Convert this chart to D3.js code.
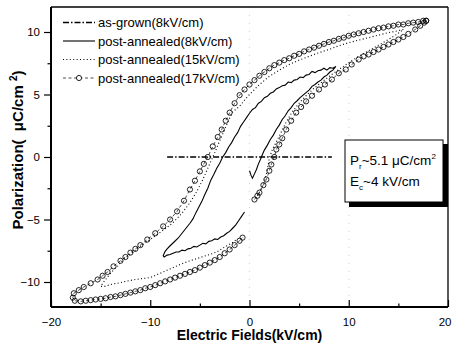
<!DOCTYPE html>
<html>
<head>
<meta charset="utf-8">
<script src="https://cdn.jsdelivr.net/npm/d3@7"></script>
<style>
  html, body { margin: 0; padding: 0; background: #fff; }
  svg { display: block; font-family: "Liberation Sans", Arial, sans-serif; }
</style>
</head>
<body>
<svg id="chart" width="452" height="347"></svg>
<script>
// ---------------- data ----------------
const xTicks = [-20, -10, 0, 10, 20];
const xMinorTicks = [-15, -5, 5, 15];
const yTicks = [-10, -5, 0, 5, 10];
const yMinorTicks = [-7.5, -2.5, 2.5, 7.5];

const legendLabels = ["as-grown(8kV/cm)", "post-annealed(8kV/cm)", "post-annealed(15kV/cm)", "post-annealed(17kV/cm)"];
const noteLines = ["P", "E"];

// as-grown (8 kV/cm): flat at zero
const asGrown = [[-8.3,0],[-6,0],[-4,0],[-2,0],[0,0],[2,0],[4,0],[6,0],[8.3,0]];

// post-annealed (8 kV/cm) – solid loop (null = gap in trace)
const ann8 = [
 [8.7,7.25],[8.4,7.1],[8.1,7.15],[7.8,6.95],[7.5,7.1],[7.2,6.95],[6.9,6.9],[6.6,6.75],[6.3,6.85],[6.0,6.6],
 [5.7,6.55],[5.4,6.35],[5.1,6.4],[4.8,6.2],[4.5,6.15],[4.2,5.95],[3.9,6.0],[3.6,5.75],[3.3,5.7],[3.0,5.55],
 [2.7,5.45],[2.4,5.2],[2.1,5.1],[1.8,4.85],[1.5,4.75],[1.2,4.45],[0.9,4.3],[0.6,3.95],[0.3,3.8],[0.0,3.5],
 [-0.3,3.15],[-0.6,2.8],[-0.9,2.45],[-1.2,1.95],[-1.5,1.6],[-1.8,1.15],[-2.1,0.8],[-2.4,0.35],[-2.7,0.0],
 [-3.0,-0.5],[-3.3,-0.9],[-3.6,-1.4],[-3.9,-1.85],[-4.2,-2.5],[-4.5,-3.0],[-4.8,-3.55],[-5.1,-4.0],
 [-5.4,-4.45],[-5.7,-4.95],[-6.0,-5.3],[-6.4,-5.7],[-6.8,-6.1],[-7.2,-6.5],[-7.6,-6.8],[-8.0,-7.1],
 [-8.3,-7.35],[-8.5,-7.55],[-8.7,-7.9],
 [-8.6,-8.0],[-8.3,-7.85],[-8.0,-7.8],[-7.7,-7.7],[-7.4,-7.6],[-7.1,-7.6],[-6.8,-7.45],[-6.5,-7.5],
 [-6.2,-7.35],[-5.9,-7.3],[-5.6,-7.15],[-5.3,-7.2],[-5.0,-7.05],[-4.7,-6.9],[-4.4,-6.95],[-4.1,-6.75],
 [-3.8,-6.7],[-3.5,-6.55],[-3.2,-6.6],[-2.9,-6.4],[-2.6,-6.3],[-2.3,-6.1],[-2.0,-5.95],[-1.7,-5.7],
 [-1.4,-5.45],[-1.1,-5.1],[-0.8,-4.75],[-0.5,-4.4],
 null,
 [0.0,-1.1],[0.15,-1.45],[0.3,-1.7],[0.5,-1.35],[0.7,-1.0],[0.9,-0.55],[1.1,-0.2],[1.3,0.2],[1.5,0.55],
 [1.8,0.95],[2.1,1.4],[2.4,1.75],[2.7,2.2],[3.0,2.55],[3.3,3.0],[3.6,3.3],[3.9,3.7],[4.2,3.95],[4.5,4.3],
 [4.8,4.5],[5.1,4.75],[5.4,4.95],[5.7,5.15],[6.0,5.35],[6.3,5.65],[6.6,5.8],[6.9,6.0],[7.2,6.15],
 [7.5,6.4],[7.8,6.55],[8.1,6.8],[8.4,6.95],[8.7,7.25]
];

// post-annealed (15 kV/cm) – dotted loop
const ann15 = [
 [15.5,10.2],[15.0,10.1],[14.0,9.95],[13.0,9.75],[12.0,9.55],[11.0,9.35],[10.0,9.15],[9.0,8.9],[8.0,8.6],
 [7.0,8.35],[6.0,8.05],[5.0,7.75],[4.0,7.4],[3.0,6.95],[2.0,6.45],[1.0,5.8],[0.0,5.0],[-0.5,4.55],
 [-1.0,4.05],[-1.7,3.6],[-2.1,2.95],[-2.5,2.2],[-3.0,1.3],[-3.5,0.35],[-3.7,0.0],[-4.2,-0.9],[-4.7,-1.8],
 [-5.3,-2.75],[-6.0,-3.65],[-6.8,-4.5],[-7.7,-5.25],[-8.5,-5.75],[-9.3,-6.2],[-10.2,-6.7],[-11.0,-7.15],
 [-11.8,-7.65],[-12.7,-8.2],[-13.4,-8.8],[-14.0,-9.3],[-14.6,-9.9],[-15.0,-10.35],
 [-14.6,-10.35],[-14.0,-10.2],[-13.3,-10.1],[-12.5,-9.95],[-11.5,-9.8],[-10.0,-9.65],[-9.0,-9.3],
 [-8.0,-8.95],[-7.0,-8.6],[-6.0,-8.3],[-5.0,-8.05],[-4.0,-7.8],[-3.3,-7.6],[-2.5,-7.2],[-1.8,-6.9],[-1.3,-6.6],
 null,
 [0.8,-3.1],[1.2,-2.5],[1.5,-2.0],[1.8,-1.0],[2.0,-0.1],[2.3,0.6],[2.7,1.2],[3.2,2.0],[3.7,2.8],[4.3,3.6],
 [5.0,4.3],[5.7,4.9],[6.5,5.5],[7.3,6.0],[8.2,6.55],[9.0,7.0],[10.0,7.55],[11.0,8.05],[12.0,8.5],
 [13.0,8.95],[14.0,9.4],[14.8,9.8],[15.5,10.2]
];

// post-annealed (17 kV/cm) – open circles
const ann17 = [
 [17.8,10.9],[17.5,10.9],[17.0,10.8],[16.5,10.75],[16.0,10.7],[15.5,10.6],[15.0,10.6],[14.5,10.5],[14.0,10.45],
 [13.5,10.35],[13.0,10.3],[12.5,10.2],[12.0,10.1],[11.5,10.0],[11.0,9.9],[10.5,9.8],[10.0,9.7],[9.5,9.55],
 [9.0,9.45],[8.5,9.3],[8.0,9.2],[7.5,9.05],[7.0,8.9],[6.5,8.75],[6.0,8.6],[5.5,8.45],[5.0,8.25],[4.5,8.1],
 [4.0,7.9],[3.5,7.75],[3.0,7.55],[2.5,7.35],[2.0,7.1],[1.5,6.8],[1.0,6.5],[0.5,6.15],[0.0,5.8],[-0.5,5.4],
 [-1.0,4.95],[-1.5,4.3],[-2.0,3.55],[-2.4,2.9],[-2.8,2.2],[-3.2,1.6],[-3.7,0.85],[-4.2,0.0],[-4.6,-0.55],
 [-5.0,-1.15],[-5.5,-1.9],[-6.0,-2.6],[-6.6,-3.5],[-7.3,-4.35],[-8.0,-5.0],[-8.7,-5.55],[-9.5,-6.1],
 [-10.3,-6.6],[-11.0,-7.05],[-11.5,-7.35],[-12.0,-7.65],[-12.5,-8.0],[-13.0,-8.3],[-13.7,-8.75],
 [-14.3,-9.2],[-14.8,-9.5],[-15.3,-9.8],[-16.0,-10.1],[-16.7,-10.4],[-17.2,-10.65],[-17.7,-10.9],[-17.8,-11.25],
 [-17.6,-11.5],[-17.0,-11.55],[-16.5,-11.5],[-16.0,-11.45],[-15.5,-11.4],[-15.0,-11.35],[-14.5,-11.3],
 [-14.0,-11.2],[-13.5,-11.15],[-13.0,-11.05],[-12.5,-10.95],[-12.0,-10.85],[-11.5,-10.75],[-11.0,-10.65],
 [-10.5,-10.5],[-10.0,-10.4],[-9.5,-10.25],[-9.0,-10.1],[-8.5,-9.95],[-8.0,-9.8],[-7.5,-9.65],[-7.0,-9.5],
 [-6.5,-9.35],[-6.0,-9.2],[-5.5,-9.05],[-5.0,-8.85],[-4.5,-8.65],[-4.0,-8.45],[-3.5,-8.25],[-3.0,-8.0],
 [-2.5,-7.7],[-2.0,-7.4],[-1.5,-7.05],[-1.0,-6.7],[-0.7,-6.45],
 null,
 [0.5,-3.4],[0.8,-3.1],[1.0,-2.85],[1.4,-2.25],[1.7,-1.8],[2.0,-1.1],[2.2,-0.6],[2.5,0.0],[2.7,0.6],
 [3.0,1.0],[3.3,1.5],[3.7,2.2],[4.2,2.9],[4.7,3.55],[5.2,4.0],[5.7,4.45],[6.3,4.9],[7.0,5.4],[7.6,5.8],
 [8.3,6.2],[9.0,6.7],[9.7,7.0],[10.3,7.4],[11.0,7.8],[11.5,8.05],[12.0,8.2],[12.5,8.4],[13.0,8.6],
 [13.5,8.8],[14.0,9.0],[14.5,9.2],[15.0,9.4],[15.5,9.6],[16.0,9.85],[16.7,10.2],[17.2,10.5],[17.6,10.75],[17.8,10.9]
];

// ---------------- drawing ----------------
const svg = d3.select("#chart");
const x = d3.scaleLinear().domain([-20, 20]).range([51, 448]);
const y = d3.scaleLinear().domain([-12, 12]).range([307, 7]);

// faint grid dots (scan residue) at x = 0 and x = 10
svg.append("g").selectAll("line").data([0, 10]).join("line")
  .attr("x1", d => x(d)).attr("x2", d => x(d))
  .attr("y1", y(12)).attr("y2", y(-12))
  .attr("stroke", "#c8c8c8").attr("stroke-width", 0.8).attr("stroke-dasharray", "1,7");

const line = d3.line().defined(d => d !== null).x(d => x(d[0])).y(d => y(d[1]));

const styles = [
  { data: asGrown, dash: "6,2,1.5,2", width: 1.3, marker: false },
  { data: ann8, dash: null, width: 1.1, marker: false },
  { data: ann15, dash: "1,2.4", width: 1.1, marker: false },
  { data: ann17, dash: "3,2.5", width: 0.7, marker: true }
];

const plot = svg.append("g");
styles.forEach(s => {
  plot.append("path").datum(s.data)
    .attr("d", line).attr("fill", "none").attr("stroke", "#000")
    .attr("stroke-width", s.width)
    .attr("stroke-dasharray", s.dash);
  if (s.marker) {
    plot.append("g").selectAll("circle").data(s.data.filter(d => d !== null)).join("circle")
      .attr("cx", d => x(d[0])).attr("cy", d => y(d[1])).attr("r", 2.6)
      .attr("fill", "none").attr("stroke", "#000").attr("stroke-width", 0.85);
  }
});

// axes
const xAxis = svg.append("g").attr("transform", `translate(0,${y(-12)})`)
  .call(d3.axisBottom(x).tickValues(xTicks).tickSizeInner(-7).tickSizeOuter(0).tickPadding(11).tickFormat(d3.format("d")));
const xMinor = svg.append("g").attr("transform", `translate(0,${y(-12)})`)
  .call(d3.axisBottom(x).tickValues(xMinorTicks).tickSizeInner(-3.5).tickSizeOuter(0).tickFormat(""));
const yAxis = svg.append("g").attr("transform", `translate(${x(-20)},0)`)
  .call(d3.axisLeft(y).tickValues(yTicks).tickSizeInner(7).tickSizeOuter(0).tickPadding(4).tickFormat(d3.format("d")));
const yMinor = svg.append("g").attr("transform", `translate(${x(-20)},0)`)
  .call(d3.axisLeft(y).tickValues(yMinorTicks).tickSizeInner(3.5).tickSizeOuter(0).tickFormat(""));
[xAxis, xMinor, yAxis, yMinor].forEach(g => {
  g.select(".domain").remove();
  g.selectAll(".tick line").attr("stroke", "#000").attr("stroke-width", 1.2);
  g.selectAll(".tick text").attr("fill", "#000").attr("font-size", 11.5)
    .attr("font-family", "'Liberation Sans', Arial, sans-serif");
});
// keep the right-most x label inside the window
xAxis.selectAll(".tick text").filter(d => d === 20).attr("text-anchor", "end").attr("x", 3);

// frame
svg.append("line").attr("x1", x(-20)).attr("x2", x(20)).attr("y1", y(12)).attr("y2", y(12)).attr("stroke", "#000").attr("stroke-width", 1.3);
svg.append("line").attr("x1", x(20)).attr("x2", x(20)).attr("y1", y(12)).attr("y2", y(-12)).attr("stroke", "#000").attr("stroke-width", 1.3);
svg.append("line").attr("x1", x(-20)).attr("x2", x(20)).attr("y1", y(-12)).attr("y2", y(-12)).attr("stroke", "#000").attr("stroke-width", 2);
svg.append("line").attr("x1", x(-20)).attr("x2", x(-20)).attr("y1", y(12)).attr("y2", y(-12)).attr("stroke", "#000").attr("stroke-width", 2);

// axis titles
svg.append("text").attr("x", x(0)).attr("y", 340).attr("text-anchor", "middle")
  .attr("font-size", 14).attr("font-weight", "bold").text("Electric Fields(kV/cm)");
const yt = svg.append("text").attr("transform", `translate(23,150) rotate(-90)`)
  .attr("text-anchor", "middle").attr("font-size", 15).attr("font-weight", "bold");
yt.append("tspan").text("Polarization(\u00A0\u00A0μC/cm\u00A0");
yt.append("tspan").attr("dy", -6).attr("font-size", 10).text("2");
yt.append("tspan").attr("dy", 6).text(")");

// legend
const legend = svg.append("g");
const legBase = [27, 45.5, 64, 82.5];
styles.forEach((s, i) => {
  const cy = legBase[i] - 4.5;
  legend.append("line").attr("x1", 63).attr("x2", 95).attr("y1", cy).attr("y2", cy)
    .attr("stroke", "#000").attr("stroke-width", s.width).attr("stroke-dasharray", s.dash);
  if (s.marker) {
    legend.append("circle").attr("cx", 79).attr("cy", cy).attr("r", 2.6)
      .attr("fill", "#fff").attr("stroke", "#000").attr("stroke-width", 0.85);
  }
  legend.append("text").attr("x", 98).attr("y", legBase[i]).attr("font-size", 13).text(legendLabels[i]);
});

// annotation box with shadow
svg.append("rect").attr("x", 349).attr("y", 144).attr("width", 99).attr("height", 63).attr("fill", "#000");
svg.append("rect").attr("x", 345).attr("y", 140).attr("width", 98).attr("height", 62)
  .attr("fill", "#fff").attr("stroke", "#000").attr("stroke-width", 1);
const t1 = svg.append("text").attr("x", 350).attr("y", 165).attr("font-size", 13.5);
t1.append("tspan").text(noteLines[0]);
t1.append("tspan").attr("dy", 4).attr("font-size", 8).text("r");
t1.append("tspan").attr("dy", -4).text("~5.1 μC/cm");
t1.append("tspan").attr("dy", -6).attr("font-size", 8).text("2");
const t2 = svg.append("text").attr("x", 350).attr("y", 186).attr("font-size", 13.5);
t2.append("tspan").text(noteLines[1]);
t2.append("tspan").attr("dy", 4).attr("font-size", 8).text("c");
t2.append("tspan").attr("dy", -4).text("~4 kV/cm");
</script>
</body>
</html>
